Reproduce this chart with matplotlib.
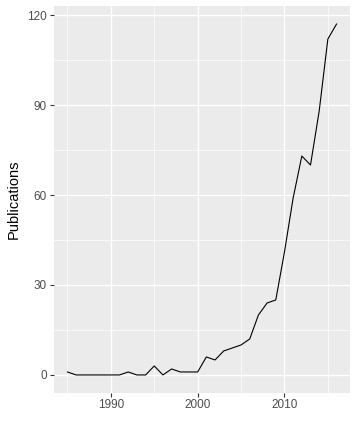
import matplotlib
matplotlib.use('Agg')
import matplotlib.pyplot as plt
from matplotlib.ticker import MultipleLocator

years = list(range(1985, 2017))
publications = [1, 0, 0, 0, 0, 0, 0, 1, 0, 0, 3, 0, 2, 1, 1, 1,
                6, 5, 8, 9, 10, 12, 20, 24, 25, 41, 59, 73, 70, 88, 112, 117]

plt.rcParams['font.family'] = ['Liberation Sans', 'DejaVu Sans']

fig = plt.figure(figsize=(3.58, 4.36), dpi=100)
ax = fig.add_axes([54/358, 1 - 392.5/436, 296/358, 386/436])
ax.set_facecolor('#EBEBEB')
for s in ax.spines.values():
    s.set_visible(False)

ax.plot(years, publications, color='black', lw=0.8)

rng = max(years) - min(years)
ax.set_xlim(min(years) - 0.05*rng, max(years) + 0.05*rng)
ax.set_ylim(-0.05*117, 117 + 0.05*117)

ax.xaxis.set_major_locator(MultipleLocator(10))
ax.xaxis.set_minor_locator(MultipleLocator(5))
ax.yaxis.set_major_locator(MultipleLocator(30))
ax.yaxis.set_minor_locator(MultipleLocator(15))
ax.grid(which='major', color='white', lw=1.0)
ax.grid(which='minor', color='white', lw=0.5)
ax.set_axisbelow(True)
ax.tick_params(which='major', length=3, width=0.8, color='#333333',
               labelcolor='#4D4D4D', labelsize=8.5, pad=2)
ax.tick_params(which='minor', length=0)

ax.set_ylabel('Publications', fontsize=10.5, labelpad=5)

fig.savefig('out.png', dpi=100)
